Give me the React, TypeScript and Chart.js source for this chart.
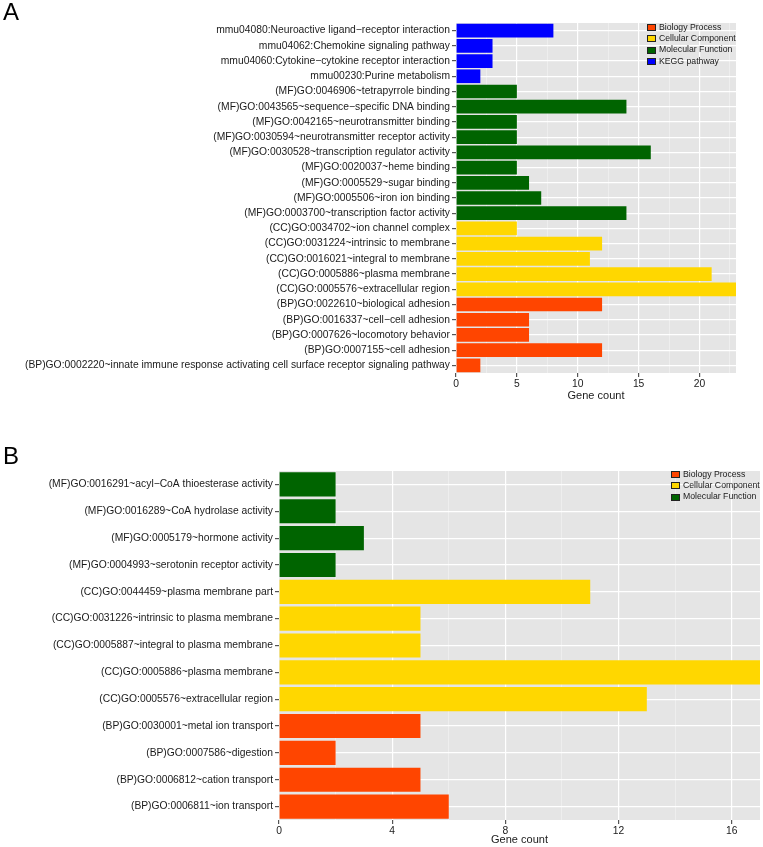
import React, { useEffect, useRef } from "react";
import { Chart, registerables } from "chart.js";

Chart.register(...registerables);

const FONT = "'Liberation Sans', Arial, Helvetica, sans-serif";

// ---- Legend ----
const LEGEND_NAMES = ["Biology Process", "Cellular Component", "Molecular Function", "KEGG pathway"];
const LEGEND_COLORS = ["#FF4500", "#FFD700", "#006400", "#0000FF"];

// ---- Panel A ----
const A_LABELS = [
  "mmu04080:Neuroactive ligand\u2212receptor interaction",
  "mmu04062:Chemokine signaling pathway",
  "mmu04060:Cytokine\u2212cytokine receptor interaction",
  "mmu00230:Purine metabolism",
  "(MF)GO:0046906~tetrapyrrole binding",
  "(MF)GO:0043565~sequence\u2212specific DNA binding",
  "(MF)GO:0042165~neurotransmitter binding",
  "(MF)GO:0030594~neurotransmitter receptor activity",
  "(MF)GO:0030528~transcription regulator activity",
  "(MF)GO:0020037~heme binding",
  "(MF)GO:0005529~sugar binding",
  "(MF)GO:0005506~iron ion binding",
  "(MF)GO:0003700~transcription factor activity",
  "(CC)GO:0034702~ion channel complex",
  "(CC)GO:0031224~intrinsic to membrane",
  "(CC)GO:0016021~integral to membrane",
  "(CC)GO:0005886~plasma membrane",
  "(CC)GO:0005576~extracellular region",
  "(BP)GO:0022610~biological adhesion",
  "(BP)GO:0016337~cell\u2212cell adhesion",
  "(BP)GO:0007626~locomotory behavior",
  "(BP)GO:0007155~cell adhesion",
  "(BP)GO:0002220~innate immune response activating cell surface receptor signaling pathway",
];
const A_VALUES = [8, 3, 3, 2, 5, 14, 5, 5, 16, 5, 6, 7, 14, 5, 12, 11, 21, 23, 12, 6, 6, 12, 2];
// group index into LEGEND_NAMES / LEGEND_COLORS
const A_GROUPS = [3, 3, 3, 3, 2, 2, 2, 2, 2, 2, 2, 2, 2, 1, 1, 1, 1, 1, 0, 0, 0, 0, 0];
const A_MAJOR_TICKS = [0, 5, 10, 15, 20];
const A_MINOR_TICKS = [2.5, 7.5, 12.5, 17.5, 22.5];
const A_MAX = 23;

// ---- Panel B ----
const B_LABELS = [
  "(MF)GO:0016291~acyl\u2212CoA thioesterase activity",
  "(MF)GO:0016289~CoA hydrolase activity",
  "(MF)GO:0005179~hormone activity",
  "(MF)GO:0004993~serotonin receptor activity",
  "(CC)GO:0044459~plasma membrane part",
  "(CC)GO:0031226~intrinsic to plasma membrane",
  "(CC)GO:0005887~integral to plasma membrane",
  "(CC)GO:0005886~plasma membrane",
  "(CC)GO:0005576~extracellular region",
  "(BP)GO:0030001~metal ion transport",
  "(BP)GO:0007586~digestion",
  "(BP)GO:0006812~cation transport",
  "(BP)GO:0006811~ion transport",
];
const B_VALUES = [2, 2, 3, 2, 11, 5, 5, 17, 13, 5, 2, 5, 6];
const B_GROUPS = [2, 2, 2, 2, 1, 1, 1, 1, 1, 0, 0, 0, 0];
const B_MAJOR_TICKS = [0, 4, 8, 12, 16];
const B_MINOR_TICKS = [2, 6, 10, 14];
const B_MAX = 17;

type PanelProps = {
  labels: string[];
  values: number[];
  groups: number[];
  major: number[];
  minor: number[];
  max: number;
  legendCount: number;
  width: number;
  height: number;
  padding: { top: number; right: number; bottom: number; left: number };
  yWidth: number;
  xHeight: number;
  legendTop: number;
};

function Panel(p: PanelProps) {
  const ref = useRef<HTMLCanvasElement | null>(null);
  useEffect(() => {
    if (!ref.current) return;
    const isMajor = (v: number) => p.major.indexOf(v) >= 0;
    const bgPlugin = {
      id: "panelBg",
      beforeDraw(chart: any) {
        const { ctx, chartArea } = chart;
        ctx.save();
        ctx.fillStyle = "#E5E5E5";
        ctx.fillRect(chartArea.left, chartArea.top, chartArea.right - chartArea.left, chartArea.bottom - chartArea.top);
        ctx.restore();
      },
    };
    const legendPlugin = {
      id: "panelLegend",
      afterDraw(chart: any) {
        const { ctx, chartArea } = chart;
        ctx.save();
        ctx.font = `8.7px ${FONT}`;
        const names = LEGEND_NAMES.slice(0, p.legendCount);
        let maxW = 0;
        names.forEach((n) => (maxW = Math.max(maxW, ctx.measureText(n).width)));
        const keyW = 9;
        const keyH = 7;
        const keyX = Math.round(chartArea.right - maxW - keyW - 3);
        names.forEach((n, i) => {
          const cy = chartArea.top + p.legendTop + i * 11.2;
          ctx.fillStyle = LEGEND_COLORS[i];
          ctx.fillRect(keyX, Math.round(cy - keyH / 2), keyW, keyH);
          ctx.strokeStyle = "#222";
          ctx.lineWidth = 1;
          ctx.strokeRect(keyX + 0.5, Math.round(cy - keyH / 2) + 0.5, keyW - 1, keyH - 1);
          ctx.fillStyle = "#1a1a1a";
          ctx.textBaseline = "middle";
          ctx.textAlign = "left";
          ctx.fillText(n, keyX + keyW + 3, cy);
        });
        ctx.restore();
      },
    };
    const chart = new Chart(ref.current, {
      type: "bar",
      data: {
        labels: p.labels,
        datasets: [
          {
            data: p.values,
            backgroundColor: p.groups.map((g) => LEGEND_COLORS[g]),
            borderWidth: 0,
            categoryPercentage: 0.9,
            barPercentage: 1.0,
          },
        ],
      },
      options: {
        indexAxis: "y",
        animation: false,
        responsive: false,
        maintainAspectRatio: false,
        devicePixelRatio: 1,
        layout: { padding: p.padding },
        plugins: {
          legend: { display: false },
          tooltip: { enabled: false },
        },
        scales: {
          x: {
            type: "linear",
            min: 0,
            max: p.max,
            afterBuildTicks(scale: any) {
              scale.ticks = [...p.major, ...p.minor].sort((a, b) => a - b).map((v) => ({ value: v }));
            },
            afterFit(scale: any) {
              scale.height = p.xHeight;
            },
            border: { display: false },
            grid: {
              color: (ctx: any) => (ctx.tick && isMajor(ctx.tick.value) ? "#FFFFFF" : "#F2F2F2"),
              lineWidth: (ctx: any) => (ctx.tick && isMajor(ctx.tick.value) ? 1.2 : 0.7),
              tickColor: (ctx: any) => (ctx.tick && isMajor(ctx.tick.value) ? "#555555" : "rgba(0,0,0,0)"),
              tickLength: 4,
            },
            ticks: {
              autoSkip: false,
              maxRotation: 0,
              padding: 1,
              color: "#1a1a1a",
              font: { family: FONT, size: 10.3 },
              callback: (v: any) => (isMajor(Number(v)) ? String(v) : ""),
            },
            title: {
              display: true,
              text: "Gene count",
              color: "#1a1a1a",
              font: { family: FONT, size: 11 },
              padding: 0,
            },
          },
          y: {
            type: "category",
            afterFit(scale: any) {
              scale.width = p.yWidth;
            },
            border: { display: false },
            grid: {
              color: "#FFFFFF",
              lineWidth: 1.2,
              offset: false,
              tickColor: "#555555",
              tickLength: 4,
            },
            ticks: {
              autoSkip: false,
              padding: 2,
              color: "#1a1a1a",
              font: { family: FONT, size: 10.3 },
            },
          },
        },
      },
      plugins: [bgPlugin, legendPlugin],
    } as any);
    return () => chart.destroy();
  }, []);
  return <canvas ref={ref} width={p.width} height={p.height} style={{ display: "block" }} />;
}

const letterStyle: React.CSSProperties = {
  position: "absolute",
  left: 3,
  fontFamily: FONT,
  fontSize: 24,
  lineHeight: "24px",
  color: "#000",
};

export default function App() {
  return (
    <div style={{ position: "fixed", left: 0, top: 0, width: 763, height: 847, background: "#fff", overflow: "hidden" }}>
      <div style={{ position: "absolute", left: 0, top: 0 }}>
        <Panel
          labels={A_LABELS}
          values={A_VALUES}
          groups={A_GROUPS}
          major={A_MAJOR_TICKS}
          minor={A_MINOR_TICKS}
          max={A_MAX}
          legendCount={4}
          width={763}
          height={410}
          padding={{ top: 23, right: 27, bottom: 7, left: 0 }}
          yWidth={456}
          xHeight={30}
          legendTop={4.7}
        />
      </div>
      <div style={{ position: "absolute", left: 0, top: 410 }}>
        <Panel
          labels={B_LABELS}
          values={B_VALUES}
          groups={B_GROUPS}
          major={B_MAJOR_TICKS}
          minor={B_MINOR_TICKS}
          max={B_MAX}
          legendCount={3}
          width={763}
          height={437}
          padding={{ top: 61, right: 3, bottom: 0, left: 0 }}
          yWidth={279}
          xHeight={27}
          legendTop={3.6}
        />
      </div>
      <div style={{ ...letterStyle, top: 0 }}>A</div>
      <div style={{ ...letterStyle, top: 444 }}>B</div>
    </div>
  );
}
